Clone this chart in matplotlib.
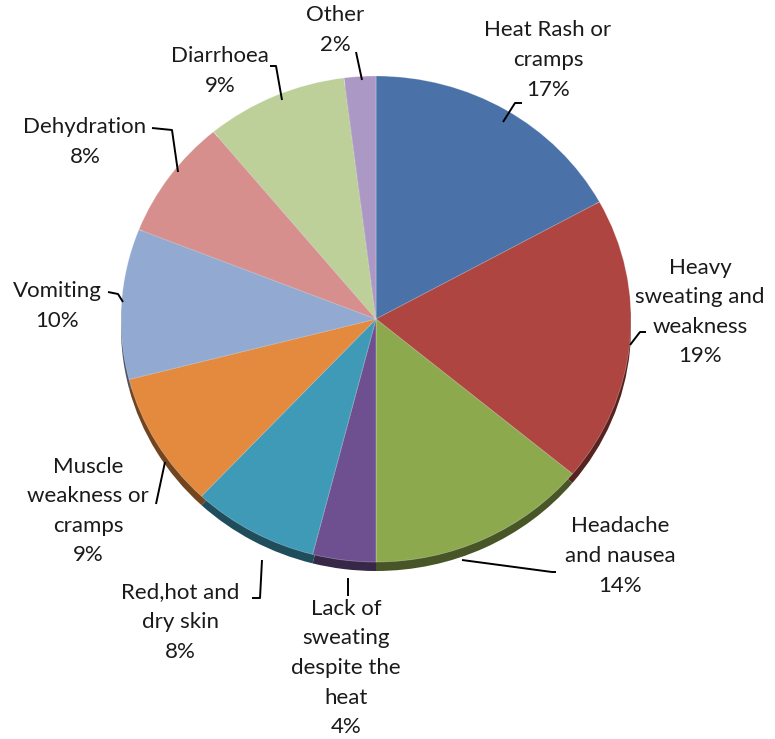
import numpy as np
import matplotlib
matplotlib.use("Agg")
import matplotlib.pyplot as plt

categories = [
    "Heat Rash or\ncramps",
    "Heavy\nsweating and\nweakness",
    "Headache\nand nausea",
    "Lack of\nsweating\ndespite the\nheat",
    "Red,hot and\ndry skin",
    "Muscle\nweakness or\ncramps",
    "Vomiting",
    "Dehydration",
    "Diarrhoea",
    "Other",
]
percent = [17, 19, 14, 4, 8, 9, 10, 8, 9, 2]

colors = ["#4A71A8", "#AE4540", "#8DA94E", "#6E5090", "#3F9AB8",
          "#E38A3E", "#92AAD2", "#D68F8D", "#BDD09A", "#AC98C4"]

# pixel layout of the picture
W, H = 775, 739
cx, cy = 376, 319
rx, ry = 255, 243
depth = 9

# label text centre and leader line (start on pie edge, elbow) in pixels
label_pos = [
    (548, 60), (700, 312), (620, 556), (346, 668), (180, 622),
    (88, 511), (57, 306), (85, 142), (220, 71), (335, 30),
]
leader = [
    [(503, 122), (515, 103), (522, 103)],
    [(630, 345), (640, 332), (646, 332)],
    [(462, 560), (552, 572), (556, 572)],
    [(348, 578), (348, 596)],
    [(262, 560), (260, 598), (252, 598)],
    [(165, 462), (156, 504)],
    [(123, 302), (118, 294), (108, 292)],
    [(178, 172), (172, 130), (152, 128)],
    [(282, 100), (276, 66), (270, 66)],
    [(362, 80), (356, 52)],
]


def to_data(p):
    return ((p[0] - cx) / rx, (cy - p[1]) / ry)


def darker(c, f=0.5):
    r, g, b = matplotlib.colors.to_rgb(c)
    return (r * f, g * f, b * f)


fig = plt.figure(figsize=(W / 100, H / 100), dpi=100)
ax = fig.add_axes([(cx - rx) / W, 1 - (cy + ry) / H, 2 * rx / W, 2 * ry / H])

# side of the tilted pie
ax.pie(percent, colors=[darker(c) for c in colors], startangle=90,
       counterclock=False, radius=1, center=(0, -depth / ry),
       wedgeprops={"linewidth": 0})
ax.pie(percent, colors=colors, startangle=90, counterclock=False, radius=1,
       wedgeprops={"linewidth": 0.5, "edgecolor": (1, 1, 1, 0.35)})
ax.set_aspect("auto")
ax.set_xlim(-1, 1)
ax.set_ylim(-1, 1)
ax.axis("off")

for name, pct, pos, line in zip(categories, percent, label_pos, leader):
    x, y = to_data(pos)
    ax.text(x, y, f"{name}\n{pct}%", ha="center", va="center",
            fontsize=16, family="Lato", color="#1a1a1a",
            linespacing=1.6, clip_on=False)
    pts = np.array([to_data(p) for p in line])
    ax.plot(pts[:, 0], pts[:, 1], color="black", lw=1.4, clip_on=False,
            solid_capstyle="butt")

fig.savefig("out.png", dpi=100, facecolor="white")
